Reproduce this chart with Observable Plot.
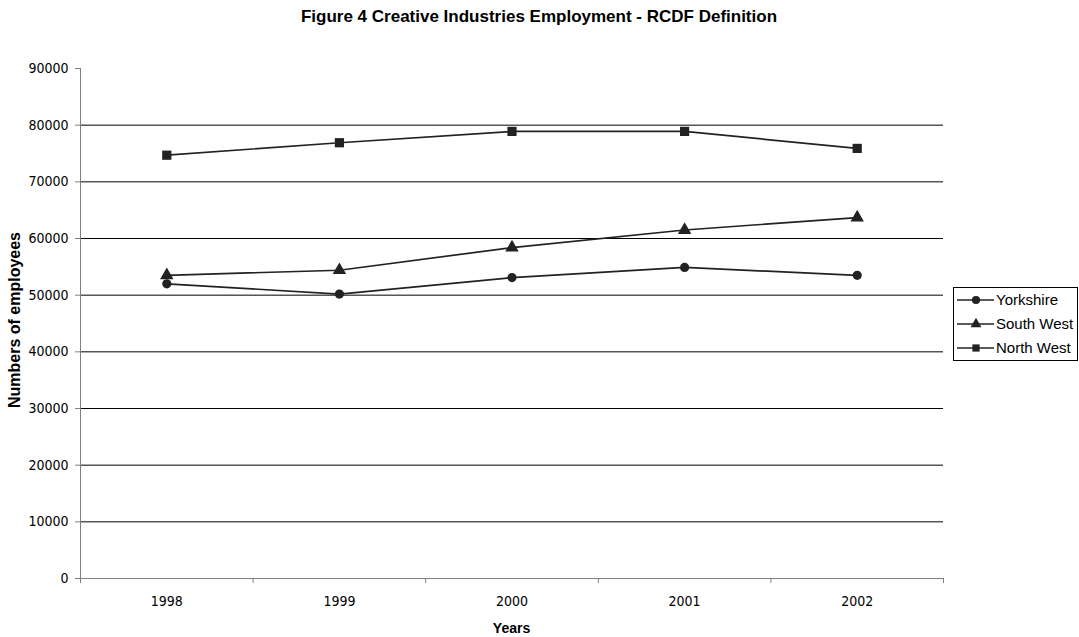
<!DOCTYPE html>
<html>
<head>
<meta charset="utf-8">
<script src="https://cdn.jsdelivr.net/npm/d3@7"></script>
<script src="https://cdn.jsdelivr.net/npm/@observablehq/plot@0.6"></script>
<style>
  html, body { margin: 0; padding: 0; background: #fff; }
  #wrap { position: relative; width: 1079px; height: 637px; font-family: "Liberation Sans", Arial, sans-serif; }
  #legend { position: absolute; left: 953px; top: 287px; width: 125px; height: 74px; border: 1px solid #000; box-sizing: border-box; background: #fff; }
  #legend .row { position: absolute; left: 0; height: 22px; font-size: 15px; color: #000; }
  #legend svg { position: absolute; left: 3px; top: 0; }
  #legend span { position: absolute; left: 42px; top: 2px; white-space: nowrap; }
  #chart { position: absolute; left: 0; top: 0; }
</style>
</head>
<body>
<div id="wrap">
  <div id="chart"></div>
  <div id="legend"></div>
</div>
<script>
const titleText = "Figure 4 Creative Industries Employment - RCDF Definition";
const xLabel = "Years";
const yLabel = "Numbers of employees";
const years = [1998, 1999, 2000, 2001, 2002];
const seriesNames = ["Yorkshire", "South West", "North West"];
const seriesSymbols = ["circle", "triangle", "square"];
const yorkshire = [52000, 50200, 53100, 54900, 53500];
const southWest = [53500, 54400, 58400, 61500, 63700];
const northWest = [74700, 76900, 78900, 78900, 75900];
const yTicks = [0, 10000, 20000, 30000, 40000, 50000, 60000, 70000, 80000, 90000];

const seriesValues = [yorkshire, southWest, northWest];
const rows = [];
seriesNames.forEach((s, i) => years.forEach((yr, j) => rows.push({series: s, year: yr, value: seriesValues[i][j]})));

const xBounds = d3.range(years[0] - 0.5, years[years.length - 1] + 1, 1);
const gridTicks = yTicks.filter(v => v > 0 && v < yTicks[yTicks.length - 1]);
const symbolSize = {"Yorkshire": 4.6, "South West": 5.0, "North West": 5.2};
const tickFont = "'Liberation Sans Narrow', 'Arial Narrow', 'DejaVu Sans Condensed', 'Liberation Sans', sans-serif";

const marks = [
  Plot.ruleY(gridTicks, {stroke: "#000", strokeWidth: 1}),
  Plot.ruleX([xBounds[0]], {y1: 0, y2: yTicks[yTicks.length - 1], stroke: "#808080", strokeWidth: 1}),
  Plot.ruleY([0], {stroke: "#808080", strokeWidth: 1}),
  Plot.axisY({ticks: yTicks, tickFormat: d => String(d), tickSize: 5, tickPadding: 7, stroke: "#808080", fontSize: 14, fontFamily: tickFont, label: null}),
  Plot.axisX({ticks: xBounds, tickFormat: () => "", tickSize: 5, stroke: "#808080", label: null}),
  Plot.axisX({ticks: years, tickFormat: d => String(d), tickSize: 0, tickPadding: 18, fontSize: 14, fontFamily: tickFont, label: null}),
  Plot.line(rows, {x: "year", y: "value", z: "series", stroke: "#222", strokeWidth: 1.7}),
  ...seriesNames.map(s => Plot.dot(rows.filter(d => d.series === s), {x: "year", y: "value", symbol: "series", r: symbolSize[s], fill: "#222", stroke: "none"}))
];

const chart = Plot.plot({
  width: 1079,
  height: 637,
  marginLeft: 80,
  marginRight: 136,
  marginTop: 68,
  marginBottom: 59,
  style: {fontFamily: "'Liberation Sans', Arial, sans-serif", fontSize: "12px", color: "#000", background: "#fff"},
  x: {type: "linear", domain: [xBounds[0], xBounds[xBounds.length - 1]]},
  y: {domain: [0, yTicks[yTicks.length - 1]]},
  symbol: {domain: seriesNames, range: seriesSymbols},
  marks
});

const svg = d3.select(chart);
svg.append("text")
  .attr("x", 539).attr("y", 22)
  .attr("text-anchor", "middle")
  .attr("font-weight", "bold").attr("font-size", 17)
  .attr("fill", "#000")
  .text(titleText);
svg.append("text")
  .attr("x", 511.5).attr("y", 633)
  .attr("text-anchor", "middle")
  .attr("font-weight", "bold").attr("font-size", 14)
  .attr("fill", "#000")
  .text(xLabel);
svg.append("text")
  .attr("transform", "translate(20,320) rotate(-90)")
  .attr("text-anchor", "middle")
  .attr("font-weight", "bold").attr("font-size", 16)
  .attr("fill", "#000")
  .text(yLabel);

document.getElementById("chart").appendChild(chart);

const legend = document.getElementById("legend");
seriesNames.forEach((s, i) => {
  const row = document.createElement("div");
  row.className = "row";
  row.style.top = (1 + i * 24) + "px";
  row.style.width = "122px";
  const ns = "http://www.w3.org/2000/svg";
  const sv = document.createElementNS(ns, "svg");
  sv.setAttribute("width", 38); sv.setAttribute("height", 22);
  const ln = document.createElementNS(ns, "line");
  ln.setAttribute("x1", 0); ln.setAttribute("x2", 37); ln.setAttribute("y1", 11); ln.setAttribute("y2", 11);
  ln.setAttribute("stroke", "#222"); ln.setAttribute("stroke-width", 1.7);
  sv.appendChild(ln);
  const p = document.createElementNS(ns, "path");
  const sym = seriesSymbols[i] === "circle" ? d3.symbolCircle : seriesSymbols[i] === "triangle" ? d3.symbolTriangle : d3.symbolSquare;
  p.setAttribute("d", d3.symbol(sym, 52)());
  p.setAttribute("transform", "translate(19,11)");
  p.setAttribute("fill", "#222");
  sv.appendChild(p);
  row.appendChild(sv);
  const sp = document.createElement("span");
  sp.textContent = s;
  row.appendChild(sp);
  legend.appendChild(row);
});
</script>
</body>
</html>
